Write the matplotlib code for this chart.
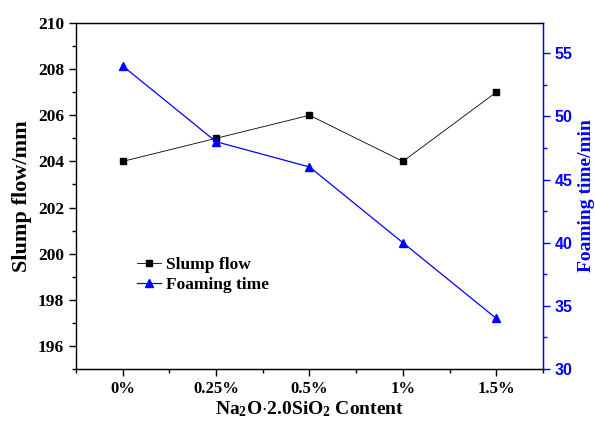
import matplotlib
matplotlib.use("Agg")
import matplotlib.pyplot as plt
from matplotlib.ticker import MultipleLocator

categories = ["0%", "0.25%", "0.5%", "1%", "1.5%"]
slump_flow = [204, 205, 206, 204, 207]
foaming_time = [54, 48, 46, 40, 34]

serif = "Liberation Serif"
sans = "Liberation Sans"

plt.rcParams['mathtext.fontset'] = 'custom'
plt.rcParams['mathtext.rm'] = 'Liberation Serif:bold'
plt.rcParams['mathtext.bf'] = 'Liberation Serif:bold'
plt.rcParams['mathtext.it'] = 'Liberation Serif:bold'

fig = plt.figure(figsize=(5.95, 4.23), dpi=100)
ax1 = fig.add_axes([0.1277, 0.1277, 0.7849, 0.8179])
ax2 = ax1.twinx()

x = list(range(len(categories)))
l1, = ax1.plot(x, slump_flow, '-', color='black', lw=0.6, marker='s', ms=5,
               label="Slump flow")
l2, = ax2.plot(x, foaming_time, '-', color='blue', lw=0.9, marker='^', ms=6,
               label="Foaming time")

ax1.set_xlim(-0.5, 4.5)
ax1.set_ylim(195, 210)
ax2.set_ylim(30, 57.4)

ax1.set_xticks(x)
ax1.set_xticklabels(categories, fontfamily=serif, fontweight='bold', fontsize=12)
ax1.xaxis.set_minor_locator(MultipleLocator(0.5))
ax1.yaxis.set_minor_locator(MultipleLocator(1))
ax2.yaxis.set_minor_locator(MultipleLocator(2.5))

ax1.set_yticks(range(196, 211, 2))
for lab in ax1.get_yticklabels():
    lab.set_fontfamily(serif)
    lab.set_fontweight('bold')
    lab.set_fontsize(12.5)
ax2.set_yticks(range(30, 56, 5))
for lab in ax2.get_yticklabels():
    lab.set_fontfamily(sans)
    lab.set_fontweight('bold')
    lab.set_fontsize(11.5)
    lab.set_color('blue')

ax1.tick_params(which='both', direction='out', width=1)
ax1.tick_params(which='major', length=5)
ax1.tick_params(which='minor', length=3)
ax2.tick_params(which='both', direction='out', width=1, colors='blue')
ax2.tick_params(which='major', length=5)
ax2.tick_params(which='minor', length=3)

for s in ['left', 'bottom', 'top']:
    ax1.spines[s].set_linewidth(1)
ax2.spines['right'].set_color('blue')
ax2.spines['right'].set_linewidth(1)
ax2.spines['left'].set_visible(False)

ax1.set_ylabel("Slump flow/mm", fontfamily=serif, fontweight='bold', fontsize=16)
ax2.set_ylabel("Foaming time/min", fontfamily=serif, fontweight='bold',
               fontsize=14, color='blue')
ax1.set_xlabel(r"Na$_\mathbf{2}$O$\cdot$2.0SiO$_\mathbf{2}$ Content",
               fontfamily=serif, fontweight='bold', fontsize=14, labelpad=2)

ax1.legend([l1, l2], ["Slump flow", "Foaming time"], loc='upper left',
           bbox_to_anchor=(0.097, 0.37), frameon=False,
           prop={'family': serif, 'weight': 'bold', 'size': 12.5},
           handlelength=1.4, handletextpad=0.3, labelspacing=0.25,
           markerscale=0.85)

fig.savefig("out.png", dpi=100)
